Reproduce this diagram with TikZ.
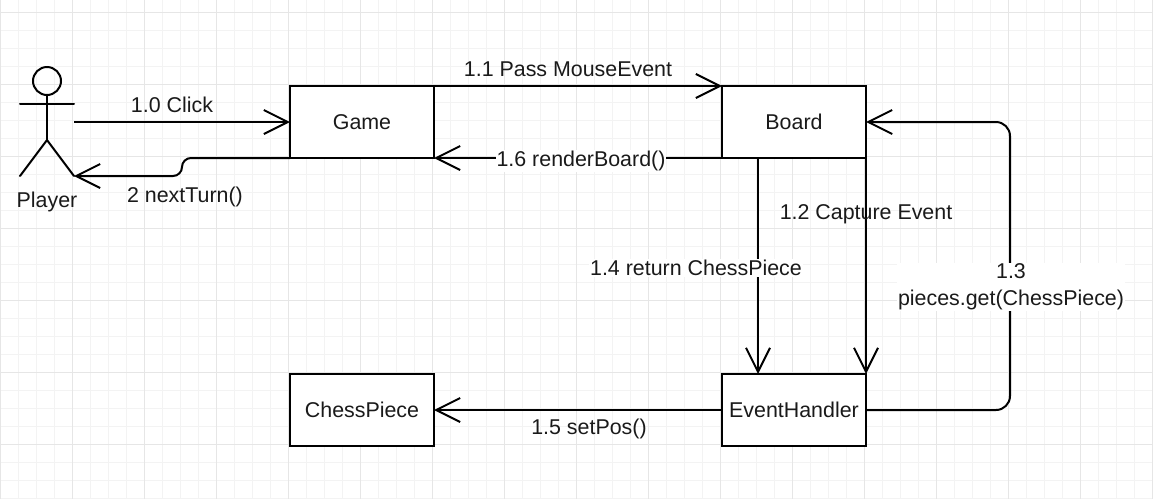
\documentclass[tikz,border=0pt]{standalone}
\usepackage{fontspec}
\setmainfont{Liberation Sans}
\usetikzlibrary{arrows.meta}
\definecolor{gridmajor}{HTML}{E6E6E6}
\definecolor{gridminor}{HTML}{F3F3F3}
\definecolor{inktext}{HTML}{1A1A1A}
\tikzset{
  x=1pt,y=-1pt,
  box/.style={draw=black,line width=2pt,fill=white,minimum width=144pt,minimum height=72pt,inner sep=0pt,outer sep=0pt,text=inktext,font=\fontsize{21.4}{27}\selectfont},
  flow/.style={draw=black,line width=2pt,-{Straight Barb[length=24pt,width=24pt,line width=2pt]}},
  plainline/.style={draw=black,line width=2pt,line cap=round},
  lbl/.style={text=inktext,font=\fontsize{21.4}{27}\selectfont,inner sep=1pt,align=center},
  lblbg/.style={lbl,fill=white},
  gmin/.style={draw=gridminor,line width=1pt},
  gmaj/.style={draw=gridmajor,line width=1pt}
}
\begin{document}
\begin{tikzpicture}
\useasboundingbox (0,0) rectangle (1153,499);
\fill[white] (0,0) rectangle (1153,499);
% grid
\foreach \k in {0,...,64}{\draw[gmin] ({\k*18+0.5},0) -- ({\k*18+0.5},499);}
\foreach \k in {0,...,27}{\draw[gmin] (0,{\k*18+12.5}) -- (1153,{\k*18+12.5});}
\foreach \k in {0,...,16}{\draw[gmaj] ({\k*72+0.5},0) -- ({\k*72+0.5},499);}
\foreach \k in {0,...,6}{\draw[gmaj] (0,{\k*72+12.5}) -- (1153,{\k*72+12.5});}
% boxes
\node[box] (game) at (362,122) {Game};
\node[box] (board) at (794,122) {Board};
\node[box] (handler) at (794,410) {EventHandler};
\node[box] (piece) at (362,410) {ChessPiece};
% actor
\node[circle,draw=black,line width=2pt,minimum size=28pt,inner sep=0pt,outer sep=0pt] (head) at (47,81) {};
\coordinate (armL) at (20,104);
\coordinate (armR) at (74,104);
\coordinate (hip) at (47,140);
\coordinate (footL) at (20,176);
\coordinate (footR) at (74,176);
\draw[plainline] (head.south) -- (hip);
\draw[plainline] (armL) -- (armR);
\draw[plainline] (footL) -- (hip) -- (footR);
\node[lbl] (playerlabel) at (47,202) {Player};
% connectors
\coordinate (clickstart) at (74,122);
\draw[flow] (clickstart) -- (game.west);
\draw[flow,rounded corners=9pt] (game.south west) -- (182,158) -- (182,176) -- (footR);
\draw[flow] (game.north east) -- (board.north west);
\draw[flow] (board.south west) -- (game.south east);
\draw[flow] ([xshift=36pt]board.south west) -- ([xshift=36pt]handler.north west);
\draw[flow] (board.south east) -- (handler.north east);
\draw[flow,rounded corners=14pt] (handler.east) -- (1010,410) -- (1010,122) -- (board.east);
\draw[flow] (handler.west) -- (piece.east);
% labels
\node[lbl] (l10) at (172,105) {1.0 Click};
\node[lbl] (l2) at (185,197) {2 nextTurn()};
\node[lbl] (l11) at (568,69) {1.1 Pass MouseEvent};
\node[lblbg] (l16) at (581,161) {1.6 renderBoard()};
\node[lbl] (l12) at (866,214) {1.2 Capture Event};
\node[lblbg] (l14) at (696,268) {1.4 return ChessPiece};
\node[lblbg] (l13) at (1011,287) {1.3\\pieces.get(ChessPiece)};
\node[lbl] (l15) at (589,429) {1.5 setPos()};
\end{tikzpicture}
\end{document}
